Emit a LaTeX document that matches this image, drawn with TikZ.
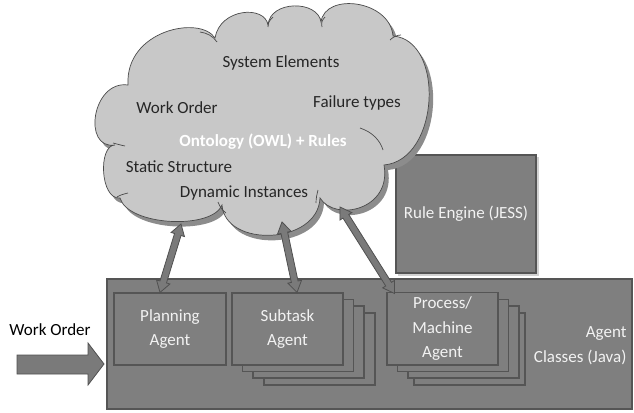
\documentclass[tikz,border=0pt]{standalone}
\usepackage{fontspec}
\setmainfont{Carlito}
\usetikzlibrary{calc}
\definecolor{textdark}{HTML}{262626}
\definecolor{boxtext}{HTML}{F2F2F2}
\definecolor{boxfill}{HTML}{7F7F7F}
\definecolor{boxline}{HTML}{555555}
\definecolor{cloudfill}{HTML}{C8C8C8}
\definecolor{cloudshadow}{HTML}{8C8C8C}
\definecolor{cloudline}{HTML}{4A4A4A}
\definecolor{arrfill}{HTML}{7A7A7A}
\definecolor{arrline}{HTML}{505050}
\definecolor{softshadow}{HTML}{D2D2D2}
\newcommand\dblarrow[2]{%
  \path (#1) coordinate (da) (#2) coordinate (db);
  \path ($(da)!11pt!(db)$) coordinate (da1) ($(db)!11pt!(da)$) coordinate (db1);
  \filldraw[fill=arrfill, draw=arrline, line width=0.8pt, line join=miter]
    (da) -- ($(da1)!7pt!90:(db)$) -- ($(da1)!3.4pt!90:(db)$)
    -- ($(db1)!3.4pt!-90:(da)$) -- ($(db1)!7pt!-90:(da)$) -- (db)
    -- ($(db1)!7pt!90:(da)$) -- ($(db1)!3.4pt!90:(da)$)
    -- ($(da1)!3.4pt!-90:(db)$) -- ($(da1)!7pt!-90:(db)$) -- cycle;}
\begin{document}
\begin{tikzpicture}[x=1pt,y=-1pt,
  txt/.style={font=\fontsize{17}{20}\selectfont, text=textdark, inner sep=0pt},
  boxtxt/.style={font=\fontsize{17}{24.5}\selectfont, text=boxtext, align=center},
  gbox/.style={draw=boxline, fill=boxfill, line width=1.1pt, inner sep=0pt},
  stackbox/.style={gbox, minimum width=111pt, minimum height=72pt},
  curl/.style={draw=cloudline, line width=0.7pt}]
\useasboundingbox (0,0) rectangle (634,412);
% main agent container
\node[gbox, minimum width=525pt, minimum height=130pt] (big) at (369.5,344) {};
\node[boxtxt, anchor=east, align=right] (classes) at (630,345.5) {Agent\\Classes (Java)};
% rule engine
\fill[softshadow] (398,157) rectangle (538.5,275.5);
\node[gbox, minimum width=140pt, minimum height=118pt, boxtxt] (rule) at (466,214) {Rule Engine (JESS)};
% cloud
\def\cloudpath{(128,85) .. controls (92,80) and (82,150) .. (115,145)
  .. controls (98,145) and (100,200) .. (120,198)
  .. controls (128,226) and (212,230) .. (222,205)
  .. controls (225,248) and (318,245) .. (320,198)
  .. controls (335,222) and (392,210) .. (384,165)
  .. controls (440,160) and (445,40) .. (393,36)
  .. controls (390,0) and (325,-8) .. (321,22)
  .. controls (318,0) and (270,0) .. (268,25)
  .. controls (265,5) and (220,8) .. (215,38)
  .. controls (200,15) and (125,30) .. (128,85) -- cycle}
\fill[cloudshadow, shift={(4,5)}] \cloudpath;
\filldraw[fill=cloudfill, draw=cloudline, line width=0.7pt] \cloudpath;
\path[curl] (217,42) .. controls (213,36) and (207,33) .. (200,32);
\path[curl] (268,27) .. controls (268,22) and (270,20) .. (273,17);
\path[curl] (322,27) .. controls (321,23) and (322,20) .. (325,17);
\path[curl] (390,40) .. controls (393,37) and (397,35) .. (401,35);
\path[curl] (383,150) .. controls (380,140) and (372,132) .. (360,128);
\path[curl] (316,203) .. controls (316,198) and (317,194) .. (318,190);
\path[curl] (218,202) .. controls (220,207) and (222,210) .. (226,213);
\path[curl] (117,197) .. controls (120,195) and (124,194) .. (128,193);
\path[curl] (113,143) .. controls (117,144) and (120,145) .. (125,146);
% cloud texts
\node[txt] (sys) at (281,63) {System Elements};
\node[txt] (wo) at (177,108) {Work Order};
\node[txt] (fail) at (357,103) {Failure types};
\node[txt, text=white, font=\fontsize{17}{20}\selectfont\bfseries] (onto) at (263,142) {Ontology (OWL) + Rules};
\node[txt] (stat) at (179,167) {Static Structure};
\node[txt] (dyn) at (244,193) {Dynamic Instances};
% planning agent
\node[gbox, minimum width=112pt, minimum height=72pt, boxtxt] (plan) at (170,329) {Planning\\Agent};
% subtask stack
\node[stackbox] (sub3) at (319.5,349) {};
\node[stackbox] (sub2) at (308.5,342) {};
\node[stackbox] (sub1) at (298,335.5) {};
\node[stackbox, boxtxt] (sub) at (287.5,329) {Subtask\\Agent};
% process stack
\node[stackbox] (proc3) at (469.5,349) {};
\node[stackbox] (proc2) at (463.5,342) {};
\node[stackbox] (proc1) at (453,335.5) {};
\node[stackbox, minimum height=72.5pt, boxtxt] (proc) at (442.5,328.75) {Process/\\Machine\\Agent};
% work order input
\node[txt, text=black] (woin) at (50,330) {Work Order};
\filldraw[fill=arrfill, draw=arrline, line width=0.8pt]
  (17,355) -- (88,355) -- (88,343) -- (104,364) -- (88,385) -- (88,374) -- (17,374) -- cycle;
% connectors cloud <-> agents
\coordinate (cl1) at (181,224);
\coordinate (cl2) at (282,222);
\coordinate (cl3) at (340,207);
\coordinate (pa) at ($(plan.north)+(-10,0)$);
\coordinate (sa) at ($(sub.north)+(9.5,0)$);
\coordinate (pm) at ($(proc.north west)+(8,1.5)$);
\dblarrow{cl1}{pa}
\dblarrow{cl2}{sa}
\dblarrow{cl3}{pm}
\end{tikzpicture}
\end{document}
